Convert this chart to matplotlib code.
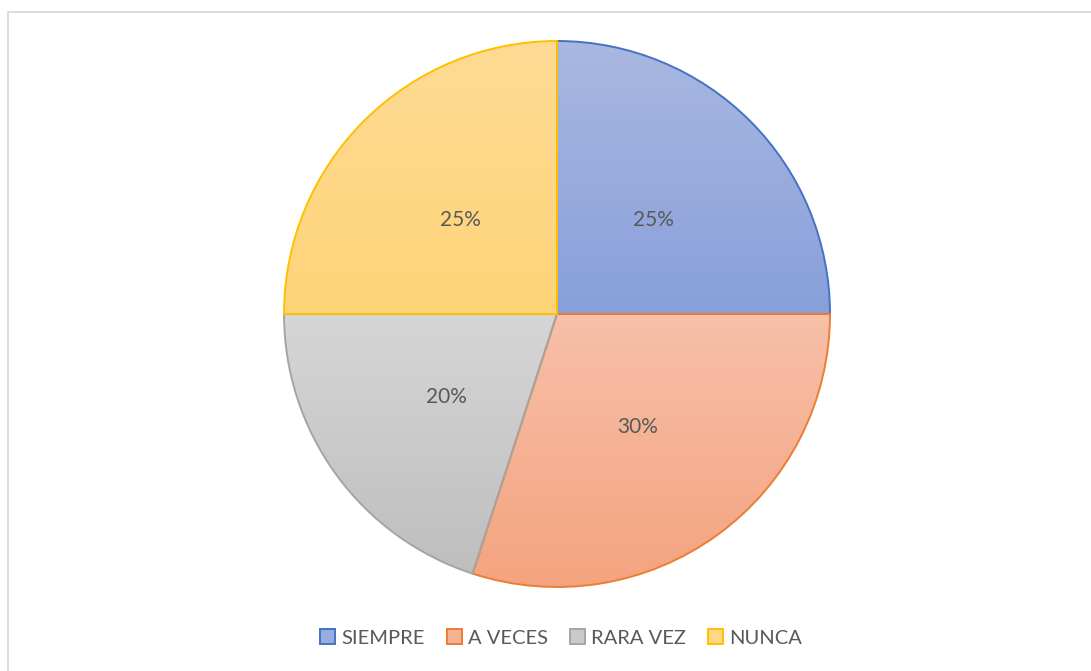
import numpy as np
import matplotlib
matplotlib.use("Agg")
import matplotlib.pyplot as plt
from matplotlib.colors import LinearSegmentedColormap, to_rgb
from matplotlib.patches import Rectangle

labels = ["SIEMPRE", "A VECES", "RARA VEZ", "NUNCA"]
values = [25, 30, 20, 25]
edge_colors = ["#4472C4", "#ED7D31", "#A5A5A5", "#FFC000"]
top_colors = ["#A9B8E1", "#F7C0A9", "#D6D6D6", "#FEDA94"]
bottom_colors = ["#889FDA", "#F4A37E", "#BEBEBE", "#FFD478"]

plt.rcParams['font.family'] = ['Lato', 'DejaVu Sans']

W, H = 1091, 671
fig = plt.figure(figsize=(W / 100, H / 100), dpi=100)
ax = fig.add_axes([0, 0, 1, 1])
ax.axis('off')

# chart frame (cropped on right/bottom)
ax.add_patch(Rectangle((8, -20), W + 20, H - 12 + 20, fill=False,
                       edgecolor="#D9D9D9", linewidth=1.3))

cx, cy, r = 557, H - 314, 273
mid = [tuple((np.array(to_rgb(a)) + np.array(to_rgb(b))) / 2)
       for a, b in zip(top_colors, bottom_colors)]

wedges, texts, autotexts = ax.pie(
    values, center=(cx, cy), radius=r, startangle=90, counterclock=False,
    colors=mid, autopct='%1.0f%%', pctdistance=0.5,
    textprops=dict(color="#595959", fontsize=15))

# vertical gradient fill per slice, wedge itself keeps only the outline
for w, tc, bc, ec in zip(wedges, top_colors, bottom_colors, edge_colors):
    v = w.get_path().vertices
    x0, x1 = v[:, 0].min(), v[:, 0].max()
    y0, y1 = v[:, 1].min(), v[:, 1].max()
    cmap = LinearSegmentedColormap.from_list("g", [bc, tc])
    grad = np.linspace(0, 1, 256).reshape(-1, 1)
    im = ax.imshow(grad, cmap=cmap, extent=(x0, x1, y0, y1), origin='lower',
                   aspect='auto', zorder=1)
    im.set_clip_path(w)
    w.set_facecolor('none')
    w.set_edgecolor(ec)
    w.set_linewidth(1.4)
    w.set_zorder(2)

for t in autotexts:
    t.set_zorder(3)
    t.set_y(t.get_position()[1] - 2.5)

ax.set_xlim(0, W)
ax.set_ylim(0, H)
ax.set_aspect('auto')

handles = [Rectangle((0, 0), 1, 1, facecolor=m, edgecolor=ec, linewidth=1.4)
           for m, ec in zip(mid, edge_colors)]
fig.legend(handles, labels, loc='center', bbox_to_anchor=(561 / W, 1 - 638 / H),
           ncol=4, frameon=False, fontsize=14.5, labelcolor="#595959",
           handlelength=0.75, handleheight=0.75, handletextpad=0.3,
           columnspacing=1.1)

fig.savefig("out.png", dpi=100, facecolor="white")
